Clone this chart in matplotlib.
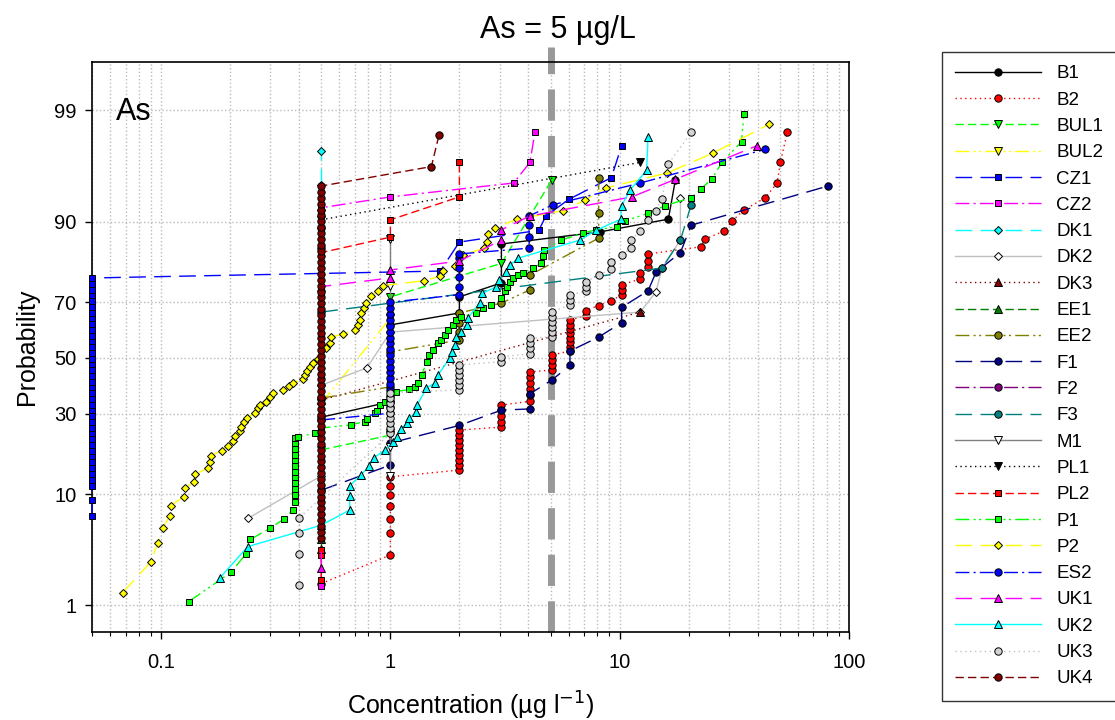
#!/usr/bin/env python3
# Probability plot of As concentrations per laboratory, log x axis, normal-probability y axis.
from statistics import NormalDist

import matplotlib
matplotlib.use("Agg")
import matplotlib.pyplot as plt
import numpy as np
from matplotlib.ticker import FixedLocator, FixedFormatter, NullLocator, NullFormatter

plt.rcParams["font.family"] = ["Liberation Sans", "DejaVu Sans"]

# ---------------------------------------------------------------- data
# concentrations (ug/l) and cumulative probabilities (%)
B1_X = [0.5, 1.0, 1.0, 2.0, 2.0, 3.05, 3.05, 8.2, 16.3, 17.5]
B1_P = [28.9, 34.0, 62.2, 66.4, 71.7, 76.0, 85.8, 88.2, 90.4, 95.3]

B2_X = ([0.5] + [1.0] * 7 + [2.0] * 9 + [3.05] * 5 + [4.06] * 6 + [5.06] * 4
        + [6.07] * 8 + [7.1, 7.1, 8.1, 9.2, 10.2, 10.2, 10.2, 12.3, 12.3,
                        13.3, 13.3, 13.3, 22.6, 23.6, 28.6, 30.9, 34.9, 43.1,
                        48.6, 50.2, 53.8])
B2_P = [1.7, 3.2, 5.0, 6.5, 8.2, 9.9, 11.4, 13.2, 14.6, 15.7, 16.9, 18.1, 19.4,
        20.7, 22.0, 23.4, 24.9, 25.8, 27.4, 29.3, 31.2, 32.9, 34.2, 36.3, 38.6,
        40.7, 42.9, 44.8, 45.5, 47.4, 49.2, 51.1, 52.6, 54.1, 56.0, 57.5, 59.3,
        60.8, 62.3, 63.9, 65.5, 67.2, 68.9, 70.5, 72.4, 73.9, 75.4, 77.1, 78.8,
        80.4, 81.9, 83.6, 85.2, 86.8, 88.4, 90.1, 91.8, 93.4, 95.0, 96.7, 98.3]

BUL1_X = [0.5, 1.0, 1.0, 3.05, 5.06]
BUL1_P = [19.4, 23.4, 71.7, 81.3, 95.3]

BUL2_X = [0.5, 1.0]
BUL2_P = [33.5, 64.6]

CZ1_COL = [6.9, 9.1, 11.5, 12.6, 13.8, 15.1, 16.4, 17.9, 19.1, 20.7, 22.3, 24.0,
           25.5, 27.4, 29.3, 31.2, 32.9, 35.0, 37.1, 39.3, 41.1, 43.3, 45.5,
           47.8, 49.6, 51.9, 54.1, 56.4, 58.2, 60.4, 62.6, 64.7, 66.4, 68.4,
           70.4, 72.3, 73.9, 75.7, 77.4]
CZ1_X = [0.05] * len(CZ1_COL) + [1.65, 2.0, 4.44, 4.77, 6.0, 9.2, 10.2]
CZ1_P = CZ1_COL + [79.3, 86.2, 88.5, 90.9, 93.2, 95.5, 97.7]

CZ2_X = [0.5, 0.5, 1.0, 3.45, 4.06, 4.27]
CZ2_P = [1.6, 92.1, 93.5, 95.0, 96.7, 98.3]

DK1_X = [0.5, 0.5, 0.5]
DK1_P = [91.8, 94.8, 97.4]

DK2_X = [0.24, 0.5, 0.5, 0.79, 1.0, 12.3, 14.4, 15.3, 18.4, 18.4]
DK2_P = [6.6, 13.4, 39.9, 46.3, 59.6, 66.7, 73.3, 80.1, 86.6, 93.4]

DK3_X = [0.5, 12.3]
DK3_P = [34.6, 66.7]

EE1_X = [0.5, 0.5]
EE1_P = [3.6, 4.4]

EE2_X = [0.5, 1.0, 1.0, 2.0, 2.0, 2.0, 2.0, 3.05, 4.06, 4.06, 8.1, 8.1, 8.1]
EE2_P = [35.3, 39.3, 52.3, 56.7, 59.7, 62.9, 66.4, 69.7, 73.9, 78.2, 87.0, 91.4, 95.5]

F1_X = [0.5, 1.0, 1.0, 2.0, 3.05, 4.06, 4.06, 5.06, 6.07, 6.07, 8.1, 10.2, 10.2,
        13.3, 14.4, 18.4, 20.5, 81.0]
F1_P = [10.7, 15.7, 21.2, 26.3, 31.2, 31.6, 36.8, 41.8, 47.2, 52.6, 57.8, 63.0,
        68.3, 73.6, 79.0, 83.9, 89.4, 94.7]

F2_X = [0.5, 0.5]
F2_P = [85.0, 88.9]

F3_X = [0.5, 15.3, 18.4, 20.5]
F3_P = [66.7, 80.1, 86.6, 92.5]

M1_X = [1.0, 1.0, 1.0, 1.0, 1.0]
M1_P = [13.4, 20.1, 23.9, 75.2, 86.8]

PL1_X = [0.5, 12.3]
PL1_P = [90.3, 96.7]

PL2_X = [0.5, 0.5, 0.5, 0.5, 1.0, 1.0, 2.0, 2.0]
PL2_P = [1.85, 3.2, 3.55, 83.9, 87.2, 90.3, 93.5, 96.7]

P1_X = ([0.132, 0.202, 0.235, 0.245, 0.30, 0.343, 0.376] + [0.382] * 12
        + [0.395, 0.467, 0.5, 0.675, 0.772, 0.79, 0.854, 0.874, 0.904, 0.944,
           1.06, 1.21, 1.28, 1.32, 1.37, 1.44, 1.48, 1.53, 1.61, 1.67,
           1.73, 1.79, 1.88, 1.94, 2.04, 2.37, 2.54, 2.76, 3.05, 3.16,
           3.21, 3.32, 3.43, 3.61, 3.79, 4.2, 4.56, 4.64, 4.67, 5.57,
           6.92, 7.92, 9.7, 10.5, 13.3, 15.8, 20.5, 22.6, 25.3, 27.9,
           34.0, 34.8])
P1_P = [1.1, 2.2, 3.3, 4.4, 5.5, 6.5, 7.65,
        8.8, 9.9, 10.9, 12.0, 13.2, 14.2, 15.5, 16.9, 18.1, 19.6, 21.2, 22.6,
        22.9, 24.0, 25.5, 26.5, 27.5, 28.2, 30.2, 31.0, 32.9, 34.1,
        37.6, 38.4, 39.4, 40.6, 43.6, 48.6, 51.1, 53.0, 55.5, 56.7,
        58.5, 60.4, 62.1, 63.9, 65.1, 66.3, 68.0, 69.1, 71.3, 73.4,
        74.9, 76.3, 77.3, 78.2, 78.8, 80.2, 81.3, 83.0, 84.5, 86.6,
        88.0, 88.6, 89.1, 90.1, 91.3, 92.4, 93.4, 94.4, 95.4, 96.7,
        97.9, 98.9]

P2_X = [0.068, 0.090, 0.097, 0.102, 0.109, 0.110, 0.126, 0.127, 0.139, 0.140,
        0.160, 0.163, 0.165, 0.184, 0.195, 0.207, 0.210, 0.220, 0.224, 0.231,
        0.236, 0.257, 0.264, 0.269, 0.287, 0.300, 0.307, 0.342, 0.363, 0.378,
        0.418, 0.426, 0.432, 0.447, 0.459, 0.483, 0.526, 0.543, 0.553, 0.621,
        0.699, 0.722, 0.735, 0.747, 0.765, 0.780, 0.826, 0.883, 0.928, 1.40,
        1.65, 1.70, 1.91, 2.07, 2.56, 2.64, 2.67, 2.85, 3.57, 5.67,
        7.06, 8.7, 16.1, 25.6, 44.9]
P2_P = [1.37, 2.74, 4.13, 5.48, 6.88, 8.26, 9.62, 11.0, 12.2, 13.7,
        15.0, 16.4, 17.9, 19.2, 20.5, 21.8, 23.1, 24.7, 25.9, 27.5,
        28.5, 30.2, 31.8, 32.9, 34.1, 35.6, 37.0, 38.2, 39.6, 40.8,
        42.1, 43.6, 45.1, 46.7, 48.0, 49.6, 53.6, 55.7, 57.9, 58.8,
        60.4, 62.2, 63.9, 66.3, 68.0, 69.6, 72.0, 73.7, 75.2, 76.6,
        77.9, 79.3, 80.6, 83.3, 84.9, 86.3, 87.8, 88.9, 90.4, 91.7,
        93.1, 94.5, 95.9, 97.3, 98.6]

ES2_X = [0.5] + [1.0] * 20 + [2.0] * 6 + [4.03] * 4 + [5.1, 12.3, 43.0]
ES2_P = [28.0, 30.2, 32.3, 34.2, 35.9, 38.2, 40.4, 42.6, 44.8, 46.6, 48.9,
         51.1, 53.4, 55.6, 57.5, 59.7, 61.9, 63.9, 66.1, 68.1, 70.0,
         72.4, 74.9, 77.7, 80.1, 82.6, 83.6, 84.9, 87.2, 89.4, 90.9,
         92.5, 95.0, 97.5]

UK1_X = [0.5, 0.5, 1.0, 1.0, 2.0, 3.05, 3.05, 4.06, 11.3, 17.5, 39.7]
UK1_P = [2.4, 74.9, 77.4, 79.6, 81.9, 86.6, 88.6, 90.9, 93.5, 95.35, 97.7]

UK2_X = [0.18, 0.239, 0.5, 0.665, 0.665, 0.665, 0.747, 0.807, 0.846, 0.951,
         1.03, 1.07, 1.117, 1.18, 1.21, 1.30, 1.31, 1.436, 1.56, 1.61,
         1.816, 1.85, 1.91, 1.94, 2.04, 2.15, 2.17, 2.45, 2.52, 2.90,
         2.99, 3.2, 3.32, 3.61, 6.7, 7.9, 10.1, 10.2, 11.1, 13.1, 13.3]
UK2_P = [1.92, 3.81, 5.8, 7.65, 9.65, 11.5, 13.6, 15.5, 17.4, 19.4,
         21.6, 23.0, 25.1, 27.0, 28.6, 30.6, 32.9, 38.9, 40.6, 43.6,
         49.9, 52.4, 54.9, 57.9, 59.8, 62.1, 64.5, 69.7, 72.8, 74.9,
         76.8, 79.0, 80.8, 82.6, 86.6, 88.5, 90.4, 92.4, 94.3, 96.1, 98.1]

UK3_X = ([0.4] * 4 + [1.0] * 9 + [2.0] * 6 + [3.05] * 2 + [4.06] * 4
         + [5.06] * 6 + [6.07] * 3 + [7.1] * 3
         + [8.1, 9.2, 9.2, 10.2, 11.2, 11.2, 12.3, 13.3, 14.4, 15.3, 16.3, 20.5])
UK3_P = [1.65, 3.3, 5.0, 6.6,
         23.9, 25.5, 27.0, 28.6, 30.2, 32.0, 33.7, 35.5, 37.2,
         38.2, 40.0, 41.8, 43.6, 45.5, 47.4,
         48.6, 50.5,
         51.5, 53.6, 55.5, 57.3,
         57.9, 59.8, 61.6, 63.3, 65.1, 66.8,
         69.1, 70.7, 72.4,
         73.4, 74.9, 76.3,
         78.2, 79.9, 81.7, 83.3, 84.9, 86.6, 88.3, 90.3, 91.7, 93.3, 96.6, 98.3]

UK4_COL = [4.5, 5.1, 5.7, 6.4, 7.1, 7.9, 8.8, 9.6, 10.6, 11.6, 12.8, 14.0, 15.3,
           16.7, 17.9, 19.4, 21.0, 22.6, 24.3, 26.1, 28.0, 29.6, 31.6, 33.6,
           35.7, 37.8, 40.0, 42.2, 44.0, 46.3, 48.5, 50.8, 53.0, 55.3, 57.5,
           59.3, 61.5, 63.6, 65.7, 67.8, 69.7, 71.7, 73.2, 75.1, 76.8, 78.5,
           80.1, 81.7, 83.1, 84.3, 85.6, 86.8, 88.0, 89.1, 90.1, 91.1, 91.8,
           92.6, 93.4, 94.1, 94.7]
UK4_X = [0.5] * len(UK4_COL) + [1.51, 1.63]
UK4_P = UK4_COL + [96.4, 98.2]

LABS = ["B1", "B2", "BUL1", "BUL2", "CZ1", "CZ2", "DK1", "DK2", "DK3", "EE1",
        "EE2", "F1", "F2", "F3", "M1", "PL1", "PL2", "P1", "P2", "ES2", "UK1",
        "UK2", "UK3", "UK4"]
SERIES_X = [B1_X, B2_X, BUL1_X, BUL2_X, CZ1_X, CZ2_X, DK1_X, DK2_X, DK3_X, EE1_X,
            EE2_X, F1_X, F2_X, F3_X, M1_X, PL1_X, PL2_X, P1_X, P2_X, ES2_X,
            UK1_X, UK2_X, UK3_X, UK4_X]
SERIES_P = [B1_P, B2_P, BUL1_P, BUL2_P, CZ1_P, CZ2_P, DK1_P, DK2_P, DK3_P, EE1_P,
            EE2_P, F1_P, F2_P, F3_P, M1_P, PL1_P, PL2_P, P1_P, P2_P, ES2_P,
            UK1_P, UK2_P, UK3_P, UK4_P]

LIMIT = 5.0  # As guideline, ug/L

# ---------------------------------------------------------------- styles
DOT = (0, (1, 2.5))
DASH = (0, (6, 3))
LDASH = (0, (12, 6))
DDOT1 = (0, (10, 3, 1.5, 3))
DDOT2 = (0, (10, 3, 1.5, 2.5, 1.5, 3))

# colour, linestyle, marker, marker face, marker size
STYLE = {
    "B1": ("black", "-", "o", "black", 5.3),
    "B2": ("red", DOT, "o", "red", 5.3),
    "BUL1": ("#00FF00", DASH, "v", "#00FF00", 5.3),
    "BUL2": ("#FFFF00", DDOT2, "v", "#FFFF00", 5.3),
    "CZ1": ("#0000FF", LDASH, "s", "#0000FF", 4.6),
    "CZ2": ("#FF00FF", DDOT1, "s", "#FF00FF", 4.6),
    "DK1": ("#00FFFF", LDASH, "D", "#00FFFF", 4.2),
    "DK2": ("#C0C0C0", "-", "D", "white", 4.2),
    "DK3": ("#800000", DOT, "^", "#800000", 5.3),
    "EE1": ("#008000", DASH, "^", "#008000", 5.3),
    "EE2": ("#808000", DDOT2, "o", "#808000", 5.3),
    "F1": ("#000080", LDASH, "o", "#000080", 5.3),
    "F2": ("#800080", DDOT1, "o", "#800080", 5.3),
    "F3": ("#008080", LDASH, "o", "#008080", 5.3),
    "M1": ("#808080", "-", "v", "white", 5.3),
    "PL1": ("black", DOT, "v", "black", 5.3),
    "PL2": ("red", DASH, "s", "red", 4.6),
    "P1": ("#00FF00", DDOT2, "s", "#00FF00", 4.6),
    "P2": ("#FFFF00", LDASH, "D", "#FFFF00", 4.2),
    "ES2": ("#0000FF", DDOT1, "o", "#0000FF", 5.3),
    "UK1": ("#FF00FF", LDASH, "^", "#FF00FF", 5.3),
    "UK2": ("#00FFFF", "-", "^", "#00FFFF", 5.3),
    "UK3": ("#C0C0C0", DOT, "o", "#D3D3D3", 5.3),
    "UK4": ("#800000", DASH, "o", "#800000", 5.3),
}

# ---------------------------------------------------------------- probability scale
_nd = NormalDist()
_inv_cdf = np.vectorize(lambda v: _nd.inv_cdf(v / 100.0), otypes=[float])
_cdf = np.vectorize(lambda v: _nd.cdf(v) * 100.0, otypes=[float])


def prob_fwd(p):
    return _inv_cdf(np.clip(np.asarray(p, dtype=float), 1e-7, 100 - 1e-7))


def prob_inv(z):
    return _cdf(np.asarray(z, dtype=float))


fig = plt.figure(figsize=(11.15, 7.2), dpi=100)
ax = fig.add_axes([92 / 1115, 1 - 632 / 720, 757 / 1115, 570 / 720])
ax.set_xscale("log")
ax.set_yscale("function", functions=(prob_fwd, prob_inv))

for lab, xs, ps in zip(LABS, SERIES_X, SERIES_P):
    col, ls, mk, mfc, ms = STYLE[lab]
    ax.plot(xs, ps, color=col, ls=ls, lw=1.0, marker=mk, ms=ms, mfc=mfc,
            mec="black", mew=0.7, label=lab, clip_on=False, zorder=3)

ax.axvline(LIMIT, 0, 1.026, color="#999999", lw=5, ls=(0, (4.5, 2.2)),
           clip_on=False, zorder=2)
ax.text(LIMIT * 1.08, 1.056, "As = 5 µg/L", transform=ax.get_xaxis_transform(),
        ha="center", va="center", fontsize=22)
ax.text(0.032, 0.912, "As", transform=ax.transAxes, fontsize=22, va="center")

ax.set_xlim(0.05, 100)
ax.set_ylim(0.5, 99.73)

ax.xaxis.set_major_locator(FixedLocator([0.1, 1, 10, 100]))
ax.xaxis.set_major_formatter(FixedFormatter(["0.1", "1", "10", "100"]))
ax.xaxis.set_minor_locator(FixedLocator(
    [m * 10.0 ** e for e in range(-2, 2) for m in range(2, 10)
     if 0.05 <= m * 10.0 ** e <= 100]))
ax.xaxis.set_minor_formatter(NullFormatter())
ax.yaxis.set_major_locator(FixedLocator([1, 10, 30, 50, 70, 90, 99]))
ax.yaxis.set_major_formatter(FixedFormatter(["1", "10", "30", "50", "70", "90", "99"]))
ax.yaxis.set_minor_locator(NullLocator())

ax.grid(True, which="major", color="#BBBBBB", ls=":", lw=1.0)
ax.grid(True, which="minor", axis="x", color="#BBBBBB", ls=":", lw=1.0)
ax.set_axisbelow(True)
ax.tick_params(which="major", length=5, width=1, labelsize=14.5)
ax.tick_params(axis="x", which="major", pad=10)
ax.tick_params(axis="y", which="major", pad=6)
ax.tick_params(which="minor", length=3, width=0.8)
for sp in ax.spines.values():
    sp.set_linewidth(1.2)

ax.set_xlabel("Concentration (µg l$^{-1}$)", fontsize=18, labelpad=13)
ax.set_ylabel("Probability", fontsize=18, labelpad=11)

leg = ax.legend(loc="upper left", bbox_to_anchor=(942 / 1115, 1 - 52 / 720),
                bbox_transform=fig.transFigure, borderaxespad=0, numpoints=1,
                fontsize=13.5, handlelength=4.6, handletextpad=0.8,
                labelspacing=0.49, borderpad=0.7, frameon=True, fancybox=False,
                edgecolor="black")
leg.get_frame().set_linewidth(1.0)

fig.savefig("out.png", dpi=100)
